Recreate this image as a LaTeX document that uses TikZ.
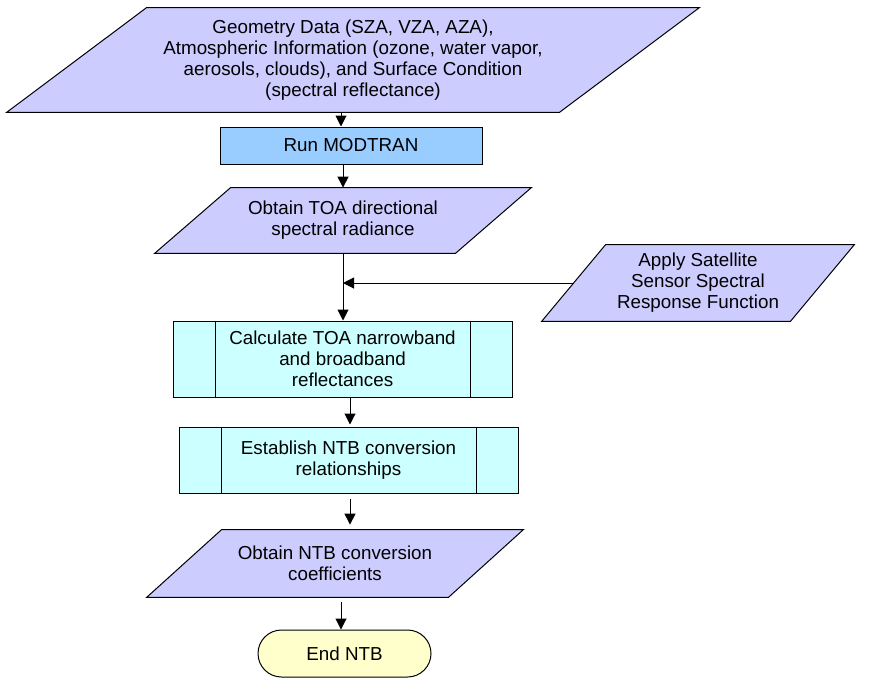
\documentclass[tikz,border=0pt]{standalone}
\usepackage{fontspec}
\setmainfont{Liberation Sans}
\usetikzlibrary{arrows.meta,calc,backgrounds}
\definecolor{lav}{HTML}{CCCCFF}
\definecolor{runblue}{HTML}{99CCFF}
\definecolor{cyanbox}{HTML}{CCFFFF}
\definecolor{endyel}{HTML}{FFFFCC}
\newcommand{\parabox}[3]{%
  \begin{scope}[on background layer]
    \filldraw[fill=#3, draw=black, line width=0.5pt]
      ($(#1.south west)+(-#2,0)$) -- ($(#1.south east)+(-#2,0)$) --
      ($(#1.north east)+(#2,0)$) -- ($(#1.north west)+(#2,0)$) -- cycle;
  \end{scope}}
\begin{document}
\begin{tikzpicture}[x=0.5pt,y=-0.5pt,
  every node/.style={font=\fontsize{9.4}{10.5}\selectfont, align=center, inner sep=0pt},
  ptext/.style={draw=none},
  procbox/.style={draw=black, line width=0.5pt, fill=runblue},
  predef/.style={draw=black, line width=0.5pt, fill=cyanbox, minimum width=169.5pt},
  termbox/.style={draw=black, line width=0.5pt, fill=endyel, rounded corners=11.75pt},
  arr/.style={line width=0.5pt, -{Triangle[length=5.5pt,width=5.5pt]}}]
\useasboundingbox (0,0) rectangle (886,681);

% input parallelograms (text nodes; shapes drawn behind)
\node[ptext, minimum width=276pt, minimum height=52pt] (geo) at (353,60)
  {Geometry Data (SZA, VZA, AZA),\\Atmospheric Information (ozone, water vapor,\\aerosols, clouds), and Surface Condition\\(spectral reflectance)};
\parabox{geo}{70}{lav}

\node[procbox, minimum width=131pt, minimum height=18.5pt] (run) at (351,145.5) {Run MODTRAN};

\node[ptext, minimum width=150pt, minimum height=32.5pt] (toa) at (343,220.5)
  {Obtain TOA directional\\spectral radiance};
\parabox{toa}{38}{lav}

\node[ptext, minimum width=124pt, minimum height=38pt] (apply) at (698,283)
  {Apply Satellite\\Sensor Spectral\\Response Function};
\parabox{apply}{32}{lav}

\node[predef, minimum height=38pt] (calc) at (342.5,359)
  {Calculate TOA narrowband\\and broadband\\reflectances};
\draw[line width=0.5pt] ($(calc.north west)+(43,0)$) -- ($(calc.south west)+(43,0)$);
\draw[line width=0.5pt] ($(calc.north east)+(-42,0)$) -- ($(calc.south east)+(-42,0)$);

\node[predef, minimum height=33pt] (est) at (348.5,460)
  {Establish NTB conversion\\relationships};
\draw[line width=0.5pt] ($(est.north west)+(43,0)$) -- ($(est.south west)+(43,0)$);
\draw[line width=0.5pt] ($(est.north east)+(-42,0)$) -- ($(est.south east)+(-42,0)$);

\node[ptext, minimum width=150.5pt, minimum height=33.5pt] (ntb) at (335,563.5)
  {Obtain NTB conversion\\coefficients};
\parabox{ntb}{37.5}{lav}

\node[termbox, minimum width=86.5pt, minimum height=23.5pt] (endn) at (344.5,653.5) {End NTB};

% connectors
\draw[arr] ($(geo.south)+(-12,0)$) -- ($(run.north)+(-10,0)$);
\draw[arr] (run.south -| toa.north) -- (toa.north);
\draw[arr] (toa.south) -- (calc.north -| toa.south);
\draw[arr] (apply.west) -- (apply.west -| toa.south);
\draw[arr] ($(calc.south)+(7.5,0)$) -- ($(est.north)+(1.5,-2)$);
\draw[arr] ($(est.south)+(1.5,5)$) -- ($(ntb.north)+(15,-5)$);
\draw[arr] ($(ntb.south)+(6,5)$) -- ($(endn.north)+(-3.5,0)$);
\end{tikzpicture}
\end{document}
